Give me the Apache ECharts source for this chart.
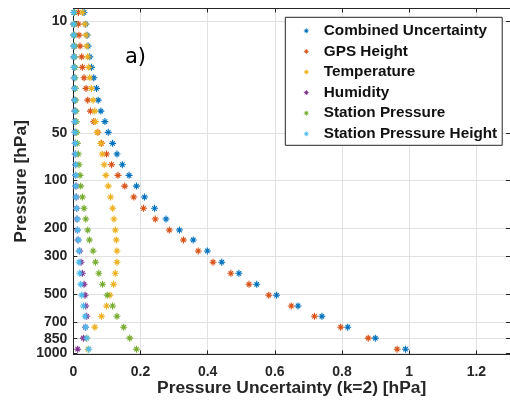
<!DOCTYPE html>
<html><head><meta charset="utf-8">
<script src="https://cdn.jsdelivr.net/npm/echarts@6/dist/echarts.min.js"></script>
<style>html,body{margin:0;padding:0;background:#fff}#c{width:510px;height:403px}</style>
</head><body><div id="c"></div>
<script>
// Heights (km, standard atmosphere) of the plotted levels, top to bottom
const heights = [31.83, 30.74, 29.72, 28.70, 27.70, 26.72, 25.75, 24.76, 23.67, 22.65, 21.67, 20.67, 19.65, 18.65, 17.66, 16.67, 15.67, 14.65, 13.60, 12.60, 11.58, 10.65, 9.63, 8.58, 7.55, 6.53, 5.51, 4.51, 3.55, 2.53, 1.51, 0.48];

const combined = [0.032, 0.037, 0.041, 0.044, 0.049, 0.054, 0.061, 0.069, 0.074, 0.082, 0.094, 0.104, 0.117, 0.130, 0.146, 0.166, 0.188, 0.212, 0.242, 0.276, 0.316, 0.357, 0.399, 0.442, 0.493, 0.546, 0.605, 0.669, 0.740, 0.817, 0.899, 0.989];
const gpsHeight = [0.015, 0.015, 0.017, 0.020, 0.025, 0.027, 0.032, 0.038, 0.043, 0.051, 0.061, 0.073, 0.084, 0.099, 0.114, 0.133, 0.153, 0.180, 0.209, 0.244, 0.286, 0.328, 0.372, 0.416, 0.469, 0.523, 0.582, 0.649, 0.718, 0.796, 0.878, 0.964];
const temperature = [0.027, 0.035, 0.038, 0.040, 0.043, 0.046, 0.049, 0.054, 0.059, 0.064, 0.066, 0.071, 0.082, 0.086, 0.092, 0.097, 0.104, 0.111, 0.117, 0.121, 0.125, 0.128, 0.130, 0.130, 0.125, 0.120, 0.109, 0.099, 0.084, 0.064, 0.040, 0.044];
const humidity = [0.001, 0.001, 0.002, 0.002, 0.002, 0.003, 0.003, 0.004, 0.004, 0.005, 0.005, 0.005, 0.006, 0.006, 0.007, 0.007, 0.008, 0.009, 0.010, 0.011, 0.012, 0.014, 0.019, 0.023, 0.027, 0.032, 0.035, 0.037, 0.040, 0.036, 0.030, 0.013];
const stationPressure = [0.003, 0.003, 0.003, 0.004, 0.004, 0.005, 0.005, 0.006, 0.007, 0.008, 0.009, 0.010, 0.012, 0.015, 0.017, 0.020, 0.022, 0.027, 0.032, 0.037, 0.043, 0.048, 0.059, 0.066, 0.076, 0.087, 0.101, 0.117, 0.130, 0.150, 0.168, 0.188];
const stationPressureHeight = [0.001, 0.001, 0.001, 0.001, 0.002, 0.002, 0.003, 0.004, 0.004, 0.005, 0.005, 0.005, 0.006, 0.006, 0.007, 0.007, 0.007, 0.008, 0.010, 0.012, 0.013, 0.015, 0.017, 0.017, 0.019, 0.022, 0.025, 0.030, 0.035, 0.037, 0.040, 0.046];

const seriesNames = ['Combined Uncertainty', 'GPS Height', 'Temperature', 'Humidity', 'Station Pressure', 'Station Pressure Height'];
const seriesValues = [combined, gpsHeight, temperature, humidity, stationPressure, stationPressureHeight];
const colors = ['#0072BD', '#D95319', '#EDB120', '#7E2F8E', '#77AC30', '#4DBEEE'];

const xTicks = [0, 0.2, 0.4, 0.6, 0.8, 1, 1.2];
const pressureLabels = ['1000', '850', '700', '500', '300', '200', '100', '50', '10'];
const pressureHeights = [0.111, 1.457, 3.012, 5.574, 9.164, 11.784, 16.180, 20.576, 31.055];

const FONT = '"Liberation Sans", Arial, Helvetica, sans-serif';
const AX = '#262626';
const GRIDC = '#e2e2e2';
const ASTERISK = 'path://M42,0L58,0L58,100L42,100Z M0,42L100,42L100,58L0,58Z M23.84,12.52L87.48,76.16L76.16,87.48L12.52,23.84Z M12.52,76.16L76.16,12.52L87.48,23.84L23.84,87.48Z';

function pLabel(v) {
  let best = 0, d = Infinity;
  pressureHeights.forEach((h, i) => { if (Math.abs(h - v) < d) { d = Math.abs(h - v); best = i; } });
  return d < 0.01 ? pressureLabels[best] : '';
}

const chart = echarts.init(document.getElementById('c'), null, {renderer: 'canvas'});
chart.setOption({
  animation: false,
  backgroundColor: '#fff',
  grid: {left: 73.3, right: -2.7, top: 8.5, bottom: 48.6, containLabel: false},
  xAxis: [{
    type: 'value', min: 0, max: 1.3, position: 'bottom',
    axisLine: {show: true, onZero: false, lineStyle: {color: AX, width: 1}},
    axisTick: {show: true, inside: true, length: 4, customValues: xTicks, lineStyle: {color: AX}},
    axisLabel: {customValues: xTicks, margin: 11, color: AX, fontFamily: FONT, fontWeight: 'bold', fontSize: 14},
    splitLine: {show: true, lineStyle: {color: GRIDC, width: 1}},
    name: 'Pressure Uncertainty (k=2) [hPa]', nameLocation: 'middle', nameGap: 25.5, nameMoveOverlap: false,
    nameTextStyle: {color: AX, fontFamily: FONT, fontWeight: 'bold', fontSize: 17.4}
  }, {
    type: 'value', min: 0, max: 1.3, position: 'top',
    axisLine: {show: true, onZero: false, lineStyle: {color: AX, width: 1}},
    axisTick: {show: true, inside: true, length: 4, customValues: xTicks, lineStyle: {color: AX}},
    axisLabel: {show: false}, splitLine: {show: false}
  }],
  yAxis: [{
    type: 'value', min: 0, max: 32.2, position: 'left',
    axisLine: {show: true, onZero: false, lineStyle: {color: AX, width: 1}},
    axisTick: {show: true, inside: true, length: 4, customValues: pressureHeights, lineStyle: {color: AX}},
    axisLabel: {customValues: pressureHeights, formatter: pLabel, margin: 6, color: AX, fontFamily: FONT, fontWeight: 'bold', fontSize: 14},
    splitLine: {show: true, lineStyle: {color: GRIDC, width: 1}},
    name: 'Pressure [hPa]', nameLocation: 'middle', nameGap: 43.6, nameRotate: 90, nameMoveOverlap: false,
    nameTextStyle: {color: AX, fontFamily: FONT, fontWeight: 'bold', fontSize: 17.4}
  }, {
    type: 'value', min: 0, max: 32.2, position: 'right',
    axisLine: {show: true, onZero: false, lineStyle: {color: AX, width: 1}},
    axisTick: {show: true, inside: true, length: 4, customValues: pressureHeights, lineStyle: {color: AX}},
    axisLabel: {show: false}, splitLine: {show: false}
  }],
  legend: {
    orient: 'vertical', left: 285.3, top: 17.3,
    padding: [6, 5, 4, 18.5],
    itemWidth: 25, itemHeight: 5, itemGap: 5.6,
    symbolKeepAspect: true,
    backgroundColor: '#fff', borderColor: AX, borderWidth: 1, borderRadius: 0,
    textStyle: {color: '#111', fontFamily: FONT, fontWeight: 'bold', fontSize: 15.3},
    data: seriesNames.map(n => ({name: n, icon: ASTERISK}))
  },
  graphic: [{
    type: 'text', x: 125, y: 57.5, z: 100,
    style: {text: 'a)', fontSize: 21, fontFamily: '"DejaVu Sans", sans-serif', fill: '#000', align: 'left', verticalAlign: 'middle'}
  }],
  series: seriesNames.map((name, k) => ({
    name: name, type: 'scatter', xAxisIndex: 0, yAxisIndex: 0,
    symbol: ASTERISK, symbolSize: 7, clip: false,
    itemStyle: {color: colors[k], opacity: 1},
    data: heights.map((h, i) => [seriesValues[k][i], h])
  }))
});
</script></body></html>
